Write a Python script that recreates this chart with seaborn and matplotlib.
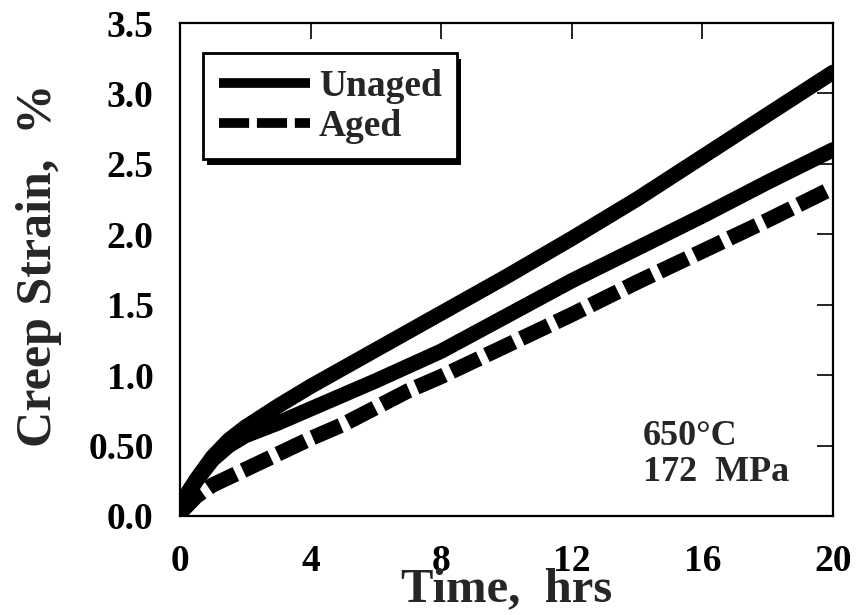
import matplotlib
matplotlib.use("Agg")
import matplotlib.pyplot as plt
from matplotlib.lines import Line2D
from matplotlib.patches import Rectangle
import seaborn as sns
import numpy as np
import pandas as pd

# ---- data ----
time_unaged_a = [0, 0.25, 0.5, 1, 1.5, 2, 3, 4, 5, 6, 8, 10, 12, 14, 16, 18, 20]
strain_unaged_a = [0.03, 0.17, 0.26, 0.42, 0.54, 0.63, 0.78, 0.92, 1.05, 1.18,
                   1.44, 1.70, 1.97, 2.25, 2.55, 2.85, 3.15]
time_unaged_b = [0, 0.25, 0.5, 1, 1.5, 2, 3, 4, 5, 6, 8, 10, 12, 14, 16, 18, 20]
strain_unaged_b = [0.03, 0.16, 0.25, 0.40, 0.50, 0.57, 0.66, 0.76, 0.86, 0.96,
                   1.17, 1.42, 1.67, 1.90, 2.13, 2.37, 2.60]
time_aged = [0, 0.5, 1, 2, 3, 4, 5, 6, 7, 8, 10, 12, 14, 16, 18, 20]
strain_aged = [0.02, 0.14, 0.22, 0.33, 0.44, 0.55, 0.65, 0.77, 0.89, 0.99,
               1.21, 1.43, 1.66, 1.88, 2.10, 2.33]

x_ticks = [0, 4, 8, 12, 16, 20]
x_tick_labels = ["0", "4", "8", "12", "16", "20"]
y_ticks = [0, 0.5, 1.0, 1.5, 2.0, 2.5, 3.0, 3.5]
y_tick_labels = ["0.0", "0.50", "1.0", "1.5", "2.0", "2.5", "3.0", "3.5"]
legend_labels = ["Unaged", "Aged"]
x_label = "Time,  hrs"
y_label = "Creep Strain,  %"
note_text = "650°C\n172  MPa"

sns.set_style("white")
plt.rcParams["font.family"] = ["Liberation Serif", "DejaVu Serif"]
plt.rcParams["font.weight"] = "bold"

fig = plt.figure(figsize=(8.59, 6.15), dpi=100)
ax = fig.add_axes([0.2095, 0.161, 0.7602, 0.8016])

LW = 11
df_a = pd.DataFrame({"t": time_unaged_a, "s": strain_unaged_a})
df_b = pd.DataFrame({"t": time_unaged_b, "s": strain_unaged_b})
df_c = pd.DataFrame({"t": time_aged, "s": strain_aged})
sns.lineplot(data=df_a, x="t", y="s", ax=ax, color="black", lw=LW,
             solid_capstyle="round", solid_joinstyle="round")
sns.lineplot(data=df_b, x="t", y="s", ax=ax, color="black", lw=LW,
             solid_capstyle="round", solid_joinstyle="round")
sns.lineplot(data=df_c, x="t", y="s", ax=ax, color="black", lw=LW,
             linestyle=(0, (2.0, 0.52)), dash_capstyle="butt")

ax.set_xlim(0, 20)
ax.set_ylim(0, 3.5)
ax.set_xticks(x_ticks)
ax.set_xticklabels(x_tick_labels)
ax.set_yticks(y_ticks)
ax.set_yticklabels(y_tick_labels)
ax.tick_params(axis="both", direction="in", length=11.5, width=1.2,
               top=True, right=True, labelsize=27, colors="black")
ax.tick_params(axis="x", pad=20)
ax.tick_params(axis="y", pad=19)
for sp in ax.spines.values():
    sp.set_visible(True)
    sp.set_color("black")
    sp.set_linewidth(1.6)

ax.set_xlabel(x_label, fontsize=35, fontweight="bold")
ax.set_ylabel(y_label, fontsize=36, fontweight="bold")
ax.xaxis.set_label_coords(0.5, -0.104)
ax.yaxis.set_label_coords(-0.181, 0.508)

ax.text(0.709, 0.195, note_text, transform=ax.transAxes, ha="left", va="top",
        fontsize=26, fontweight="bold", linespacing=1.12)

handles = [Line2D([], [], color="black", lw=7, solid_capstyle="butt"),
           Line2D([], [], color="black", lw=7, linestyle=(0, (3.1, 0.8)),
                  dash_capstyle="butt")]
leg = ax.legend(handles, legend_labels, loc="upper left",
                bbox_to_anchor=(0.035, 0.939), borderaxespad=0,
                prop={"family": "Liberation Serif", "weight": "bold", "size": 27},
                handlelength=2.45, handletextpad=0.22, borderpad=0.42,
                labelspacing=0.13, fancybox=False, framealpha=1,
                edgecolor="black")
leg.get_frame().set_linewidth(2)
leg.set_zorder(5)

# drop shadow for legend box
fig.canvas.draw()
bb = leg.get_frame().get_window_extent()
inv = fig.transFigure.inverted()
(x0, y0), (x1, y1) = inv.transform([(bb.x0 + 4, bb.y0 - 6), (bb.x1 + 4, bb.y1 - 6)])
shadow = Rectangle((x0, y0), x1 - x0, y1 - y0, transform=fig.transFigure,
                   facecolor="black", edgecolor="none", zorder=4)
ax.add_artist(shadow)
shadow.set_clip_on(False)

fig.savefig("out.png", dpi=100)
